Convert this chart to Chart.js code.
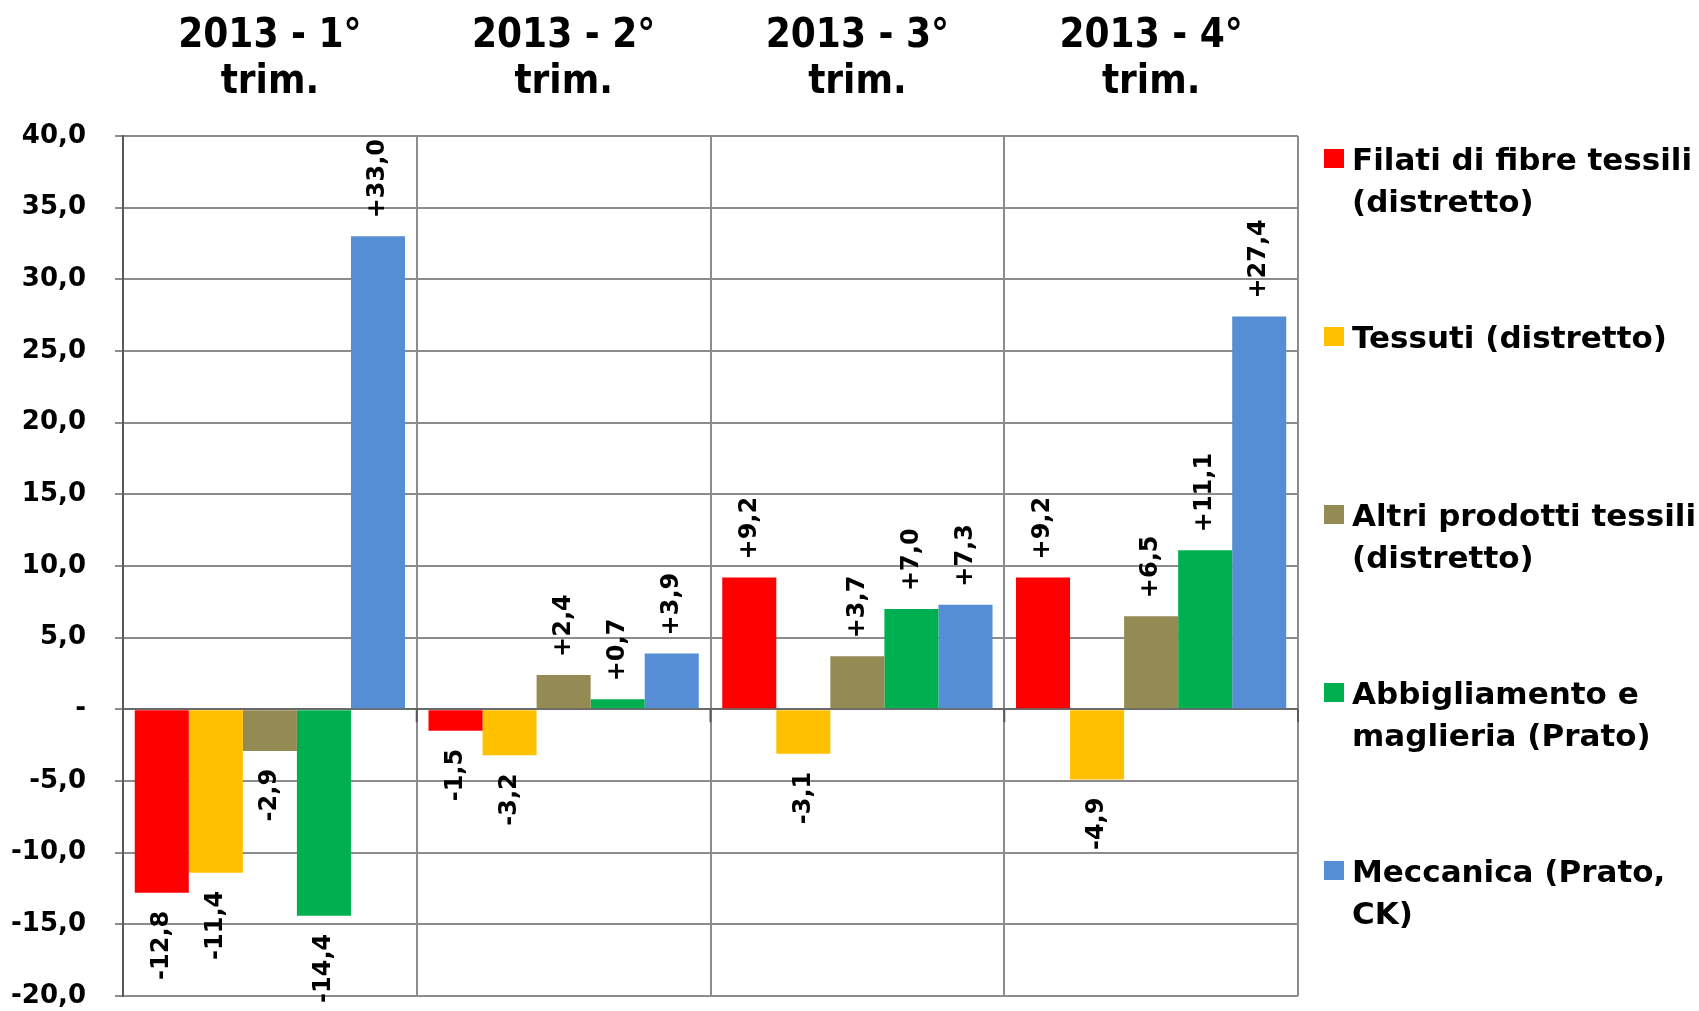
<!DOCTYPE html>
<html><head><meta charset="utf-8">
<script src="https://cdn.jsdelivr.net/npm/chart.js@4.4.1/dist/chart.umd.min.js"></script>
<style>
html,body{margin:0;padding:0;background:#fff;}
#wrap{position:relative;width:1699px;height:1011px;overflow:hidden;}
#c{position:absolute;left:0;top:0;}
#legend{position:absolute;left:1324px;top:138px;width:375px;font-family:"DejaVu Sans";font-weight:bold;font-size:31px;color:#000;}
.item{display:flex;align-items:flex-start;height:178px;}
.box{width:20px;height:19px;margin-top:11px;margin-right:8px;flex:none;}
.txt{line-height:42px;width:350px;}
</style></head>
<body>
<div id="wrap">
<canvas id="c" width="1699" height="1011"></canvas>
<div id="legend"></div>
</div>
<script>
const categories = [['2013 - 1°','trim.'], ['2013 - 2°','trim.'], ['2013 - 3°','trim.'], ['2013 - 4°','trim.']];
const seriesNames = ['Filati di fibre tessili (distretto)', 'Tessuti (distretto)', 'Altri prodotti tessili (distretto)', 'Abbigliamento e maglieria (Prato)', 'Meccanica (Prato, CK)'];
const seriesColors = ['#FF0000', '#FFC000', '#948A54', '#00B050', '#558ED5'];
const filati = [-12.8, -1.5, 9.2, 9.2];
const tessuti = [-11.4, -3.2, -3.1, -4.9];
const altri = [-2.9, 2.4, 3.7, 6.5];
const abbigliamento = [-14.4, 0.7, 7.0, 11.1];
const meccanica = [33.0, 3.9, 7.3, 27.4];
const seriesValues = [filati, tessuti, altri, abbigliamento, meccanica];
const yMin = -20, yMax = 40, yStep = 5;

function fmtTick(v){ return v === 0 ? '-' : v.toFixed(1).replace('.', ','); }
function fmtLabel(v){ return (v > 0 ? '+' : '') + v.toFixed(1).replace('.', ','); }

const valueLabels = {
  id: 'valueLabels',
  afterDatasetsDraw(chart) {
    const ctx = chart.ctx;
    ctx.save();
    ctx.font = 'bold 24px "DejaVu Sans"';
    ctx.fillStyle = '#000';
    ctx.textBaseline = 'middle';
    chart.data.datasets.forEach((ds, di) => {
      const meta = chart.getDatasetMeta(di);
      meta.data.forEach((bar, i) => {
        const v = ds.data[i];
        ctx.save();
        ctx.translate(bar.x, bar.y + (v >= 0 ? -18 : 18));
        ctx.rotate(-Math.PI / 2);
        ctx.textAlign = v >= 0 ? 'left' : 'right';
        ctx.fillText(fmtLabel(v), 0, 0);
        ctx.restore();
      });
    });
    ctx.restore();
  }
};

const zeroTicks = {
  id: 'zeroTicks',
  afterDraw(chart) {
    const xs = chart.scales.x, ys = chart.scales.y, ctx = chart.ctx;
    const y0 = ys.getPixelForValue(0);
    const n = categories.length;
    const bounds = [chart.chartArea.left];
    for (let i = 1; i < n; i++) bounds.push((xs.getPixelForTick(i - 1) + xs.getPixelForTick(i)) / 2);
    bounds.push(chart.chartArea.right);
    ctx.save();
    ctx.strokeStyle = '#5a5a5a';
    ctx.lineWidth = 2;
    ctx.beginPath();
    bounds.forEach(x => { ctx.moveTo(x, y0); ctx.lineTo(x, y0 + 13); });
    ctx.stroke();
    ctx.restore();
  }
};

new Chart(document.getElementById('c'), {
  type: 'bar',
  data: {
    labels: categories,
    datasets: seriesValues.map((vals, i) => ({
      label: seriesNames[i],
      data: vals,
      backgroundColor: seriesColors[i],
      borderWidth: 0,
      categoryPercentage: 0.92,
      barPercentage: 1.0
    }))
  },
  options: {
    responsive: false,
    animation: false,
    devicePixelRatio: 1,
    layout: { padding: { left: 0, top: 0, right: 401, bottom: 15 } },
    plugins: { legend: { display: false }, tooltip: { enabled: false } },
    scales: {
      x: {
        position: 'top',
        ticks: { color: '#000', font: { family: '"DejaVu Sans Condensed"', weight: 'bold', size: 40, lineHeight: 1.15 }, padding: 30, maxRotation: 0, autoSkip: false },
        grid: { color: '#8c8c8c', lineWidth: 2, drawTicks: false, offset: true },
        border: { display: false },
        afterFit: s => { s.height = 136; }
      },
      y: {
        min: yMin, max: yMax,
        ticks: { stepSize: yStep, color: '#000', font: { family: '"DejaVu Sans"', weight: 'bold', size: 26 }, padding: 29, callback: fmtTick },
        grid: { color: c => (c.tick && c.tick.value === 0) ? '#6a6a6a' : '#8c8c8c', lineWidth: 2, tickLength: 8, tickColor: '#8c8c8c' },
        border: { color: '#5a5a5a', width: 2 },
        afterFit: s => { s.width = 123; s.paddingTop = 0; s.paddingBottom = 0; }
      }
    }
  },
  plugins: [valueLabels, zeroTicks]
});

const legend = document.getElementById('legend');
seriesNames.forEach((name, i) => {
  const item = document.createElement('div');
  item.className = 'item';
  const box = document.createElement('div');
  box.className = 'box';
  box.style.background = seriesColors[i];
  const txt = document.createElement('div');
  txt.className = 'txt';
  txt.textContent = name;
  item.appendChild(box); item.appendChild(txt);
  legend.appendChild(item);
});
</script>
</body></html>
